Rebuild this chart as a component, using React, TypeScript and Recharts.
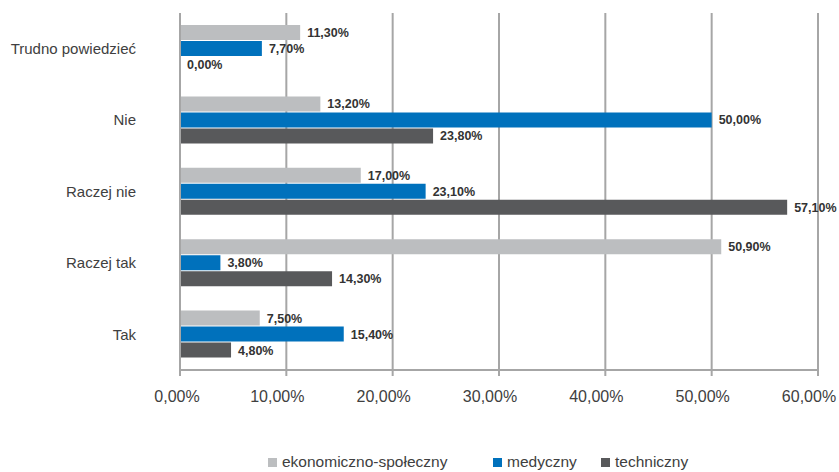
import React from 'react';
import { BarChart, Bar, XAxis, YAxis, CartesianGrid, Legend, LabelList } from 'recharts';

const categories = ['Trudno powiedzieć', 'Nie', 'Raczej nie', 'Raczej tak', 'Tak'];
const ekonomicznoSpoleczny = [11.3, 13.2, 17.0, 50.9, 7.5];
const medyczny = [7.7, 50.0, 23.1, 3.8, 15.4];
const techniczny = [0.0, 23.8, 57.1, 14.3, 4.8];
const xTicks = [0, 10, 20, 30, 40, 50, 60];
const boundaryTicks = [0, 1, 2, 3, 4, 5];

const fmt = (v: number) => v.toFixed(2).replace('.', ',') + '%';

const data = categories.map((c, i) => ({
  name: c,
  eko: ekonomicznoSpoleczny[i],
  med: medyczny[i],
  tech: techniczny[i],
  ekoLabel: fmt(ekonomicznoSpoleczny[i]),
  medLabel: fmt(medyczny[i]),
  techLabel: fmt(techniczny[i]),
}));

const FONT = "'Liberation Sans', Arial, sans-serif";

const legendWidths = [225, 108, 120];

const LegendContent = (props: any) => {
  const payload = props.payload || [];
  return (
    <div style={{ display: 'flex', alignItems: 'center', height: 20, paddingLeft: 268, fontFamily: FONT, fontSize: 15.5, color: '#404040' }}>
      {payload.map((p: any, i: number) => (
        <div key={i} style={{ display: 'flex', alignItems: 'center', width: legendWidths[i] }}>
          <span style={{ display: 'inline-block', width: 9, height: 9, background: p.color, marginRight: 5 }} />
          <span>{p.value}</span>
        </div>
      ))}
    </div>
  );
};

const XTick = (props: any) => {
  const { x, y, payload } = props;
  const dx = payload.value === 0 ? -3 : -9;
  return (
    <text x={x + dx} y={y} dy="0.71em" textAnchor="middle" fill="#404040" fontSize={16} fontFamily={FONT}>
      {fmt(payload.value)}
    </text>
  );
};

const labelStyle = { fill: '#333', fontWeight: 'bold' as const, fontSize: 12.5, fontFamily: FONT };

const zeroMin = (v: any) => (Number(v) === 0 ? 0.01 : 0);

export default function App() {
  return (
    <div style={{ position: 'absolute', left: 0, top: 0, width: 839, height: 472, background: '#fff' }}>
      <BarChart
        width={839}
        height={472}
        data={data}
        layout="vertical"
        margin={{ top: 13, right: 21, bottom: 0, left: 0 }}
        barCategoryGap={12}
        barGap={1}
      >
        <CartesianGrid horizontal={false} vertical stroke="#A6A6A6" strokeWidth={2} />
        <XAxis
          type="number"
          domain={[0, 60]}
          ticks={xTicks}
          height={82}
          tickSize={6}
          tickMargin={15}
          axisLine={{ stroke: '#A6A6A6', strokeWidth: 2 }}
          tickLine={{ stroke: '#A6A6A6', strokeWidth: 2 }}
          tick={<XTick />}
          interval={0}
        />
        <YAxis
          type="category"
          dataKey="name"
          width={180}
          tickSize={0}
          tickMargin={44}
          tickLine={false}
          axisLine={{ stroke: '#A6A6A6', strokeWidth: 2 }}
          tick={{ fill: '#404040', fontSize: 15, fontFamily: FONT }}
          interval={0}
        />
        <YAxis
          yAxisId="bounds"
          type="number"
          domain={[0, 5]}
          ticks={boundaryTicks}
          width={0}
          tick={false}
          tickSize={8}
          axisLine={false}
          tickLine={{ stroke: '#A6A6A6', strokeWidth: 2 }}
          interval={0}
        />
        <Legend verticalAlign="bottom" content={LegendContent} wrapperStyle={{ left: 0, width: 839, bottom: 0 }} />
        <Bar dataKey="eko" name="ekonomiczno-społeczny" fill="#BCBEC0" isAnimationActive={false} minPointSize={zeroMin}>
          <LabelList dataKey="ekoLabel" position="right" offset={7} style={labelStyle} />
        </Bar>
        <Bar dataKey="med" name="medyczny" fill="#0071BC" isAnimationActive={false} minPointSize={zeroMin}>
          <LabelList dataKey="medLabel" position="right" offset={7} style={labelStyle} />
        </Bar>
        <Bar dataKey="tech" name="techniczny" fill="#58595B" isAnimationActive={false} minPointSize={zeroMin}>
          <LabelList dataKey="techLabel" position="right" offset={7} style={labelStyle} />
        </Bar>
      </BarChart>
    </div>
  );
}
